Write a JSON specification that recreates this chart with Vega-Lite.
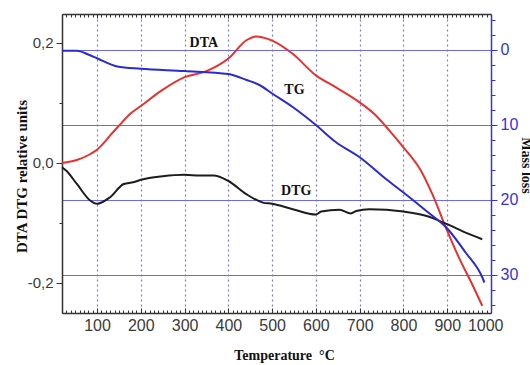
{
  "$schema": "https://vega.github.io/schema/vega-lite/v6.json",
  "width": 429,
  "height": 299,
  "autosize": {"type": "none"},
  "padding": {"left": 62, "top": 14, "right": 39, "bottom": 52},
  "background": "white",
  "config": {"view": {"stroke": null}},
  "datasets": {
    "dtaDtg": [
      {"series": "DTA", "T": 20, "v": 0.0},
      {"series": "DTA", "T": 54, "v": 0.005},
      {"series": "DTA", "T": 85, "v": 0.015},
      {"series": "DTA", "T": 100, "v": 0.022},
      {"series": "DTA", "T": 115, "v": 0.033},
      {"series": "DTA", "T": 130, "v": 0.046},
      {"series": "DTA", "T": 150, "v": 0.062},
      {"series": "DTA", "T": 176, "v": 0.082},
      {"series": "DTA", "T": 200, "v": 0.095},
      {"series": "DTA", "T": 248, "v": 0.121},
      {"series": "DTA", "T": 300, "v": 0.143},
      {"series": "DTA", "T": 350, "v": 0.153},
      {"series": "DTA", "T": 400, "v": 0.174},
      {"series": "DTA", "T": 442, "v": 0.205},
      {"series": "DTA", "T": 464, "v": 0.211},
      {"series": "DTA", "T": 480, "v": 0.209},
      {"series": "DTA", "T": 500, "v": 0.204},
      {"series": "DTA", "T": 547, "v": 0.182},
      {"series": "DTA", "T": 600, "v": 0.146},
      {"series": "DTA", "T": 646, "v": 0.126},
      {"series": "DTA", "T": 700, "v": 0.101},
      {"series": "DTA", "T": 733, "v": 0.082},
      {"series": "DTA", "T": 768, "v": 0.054},
      {"series": "DTA", "T": 800, "v": 0.026},
      {"series": "DTA", "T": 840, "v": -0.013},
      {"series": "DTA", "T": 866, "v": -0.052},
      {"series": "DTA", "T": 900, "v": -0.113},
      {"series": "DTA", "T": 927, "v": -0.158},
      {"series": "DTA", "T": 957, "v": -0.202},
      {"series": "DTA", "T": 980, "v": -0.238},
      {"series": "DTG", "T": 20, "v": -0.007},
      {"series": "DTG", "T": 30, "v": -0.013},
      {"series": "DTG", "T": 54, "v": -0.035},
      {"series": "DTG", "T": 85, "v": -0.063},
      {"series": "DTG", "T": 100, "v": -0.068},
      {"series": "DTG", "T": 130, "v": -0.057},
      {"series": "DTG", "T": 161, "v": -0.035},
      {"series": "DTG", "T": 183, "v": -0.032},
      {"series": "DTG", "T": 200, "v": -0.028},
      {"series": "DTG", "T": 250, "v": -0.022},
      {"series": "DTG", "T": 300, "v": -0.0195},
      {"series": "DTG", "T": 335, "v": -0.021},
      {"series": "DTG", "T": 366, "v": -0.021},
      {"series": "DTG", "T": 400, "v": -0.03},
      {"series": "DTG", "T": 441, "v": -0.052},
      {"series": "DTG", "T": 479, "v": -0.066},
      {"series": "DTG", "T": 500, "v": -0.068},
      {"series": "DTG", "T": 547, "v": -0.077},
      {"series": "DTG", "T": 600, "v": -0.086},
      {"series": "DTG", "T": 612, "v": -0.081},
      {"series": "DTG", "T": 654, "v": -0.078},
      {"series": "DTG", "T": 680, "v": -0.084},
      {"series": "DTG", "T": 692, "v": -0.08},
      {"series": "DTG", "T": 722, "v": -0.077},
      {"series": "DTG", "T": 800, "v": -0.081},
      {"series": "DTG", "T": 851, "v": -0.088},
      {"series": "DTG", "T": 900, "v": -0.102},
      {"series": "DTG", "T": 942, "v": -0.116},
      {"series": "DTG", "T": 980, "v": -0.127}
    ],
    "tg": [
      {"T": 20, "m": 0.1},
      {"T": 54, "m": 0.1},
      {"T": 80, "m": 0.6},
      {"T": 100, "m": 1.1},
      {"T": 146, "m": 2.2},
      {"T": 200, "m": 2.5},
      {"T": 300, "m": 2.8},
      {"T": 400, "m": 3.2},
      {"T": 442, "m": 4.0},
      {"T": 472, "m": 4.7},
      {"T": 500, "m": 5.8},
      {"T": 547, "m": 7.6},
      {"T": 600, "m": 10.0},
      {"T": 646, "m": 12.3},
      {"T": 700, "m": 14.3},
      {"T": 760, "m": 17.2},
      {"T": 800, "m": 19.0},
      {"T": 851, "m": 21.4},
      {"T": 900, "m": 23.8},
      {"T": 942, "m": 27.0},
      {"T": 980, "m": 30.3},
      {"T": 985, "m": 31.0}
    ],
    "labels": [
      {"label": "DTA", "T": 344, "v": 0.2},
      {"label": "TG", "T": 551, "v": 0.121},
      {"label": "DTG", "T": 555, "v": -0.047}
    ]
  },
  "layer": [
    {
      "layer": [
        {
          "data": {"name": "dtaDtg"},
          "mark": {"type": "line", "strokeWidth": 2, "interpolate": "monotone"},
          "encoding": {
            "x": {
              "field": "T", "type": "quantitative",
              "scale": {"domain": [20, 1000], "nice": false, "zero": false},
              "axis": {
                "orient": "bottom",
                "tickCount": 98,
                "format": "d",
                "labelOverlap": false,
                "labelFlush": true,
                "labelFlushOffset": 12,
                "labelExpr": "datum.value % 100 === 0 ? datum.label : ''",
                "labelFont": "Liberation Sans",
                "labelFontSize": 16,
                "labelColor": "#3a3a3a",
                "labelPadding": 9,
                "tickColor": "#333333",
                "tickWidth": 1,
                "tickSize": {"condition": {"test": "datum.value % 100 === 0", "value": -5}, "value": -3},
                "domainColor": "#333333",
                "domainWidth": 1.5,
                "grid": true,
                "gridColor": "#7a7ae6",
                "gridDash": [2, 3],
                "gridWidth": 1.2,
                "gridOpacity": {"condition": {"test": "datum.value % 100 === 0 && datum.value < 1000", "value": 1}, "value": 0},
                "title": "Temperature\u00a0\u00a0°C",
                "titleFont": "Liberation Serif",
                "titleFontSize": 14,
                "titleFontWeight": "bold",
                "titleColor": "#111111",
                "titleBaseline": "top",
                "titleX": 222,
                "titleY": 35
              }
            },
            "y": {
              "field": "v", "type": "quantitative",
              "scale": {"domain": [-0.25, 0.24833], "nice": false, "zero": false},
              "axis": {
                "orient": "left",
                "tickCount": 5,
                "format": ".1f",
                "labelOverlap": false,
                "labelExpr": "abs(round(datum.value*10)) % 2 === 0 ? replace(replace(datum.label, '.', ','), '\u2212', '-') : ''",
                "labelFont": "Liberation Sans",
                "labelFontSize": 15,
                "labelColor": "#3a3a3a",
                "labelPadding": 3,
                "tickColor": "#333333",
                "tickSize": {"condition": {"test": "abs(round(datum.value*10)) % 2 === 0", "value": 6}, "value": 3},
                "domainColor": "#333333",
                "domainWidth": 1.5,
                "grid": false,
                "title": "DTA DTG relative units",
                "titleFont": "Liberation Serif",
                "titleFontSize": 15,
                "titleFontWeight": "bold",
                "titleColor": "#111111",
                "titleAngle": -90,
                "titleBaseline": "bottom",
                "titleX": -33,
                "titleY": 162
              }
            },
            "color": {
              "field": "series", "type": "nominal",
              "scale": {"domain": ["DTA", "DTG"], "range": ["#e8312c", "#1c1c1c"]},
              "legend": null
            }
          }
        },
        {
          "data": {"name": "labels"},
          "mark": {"type": "text", "font": "Liberation Serif", "fontWeight": "bold", "fontSize": 14, "color": "#111111", "align": "center", "baseline": "middle"},
          "encoding": {
            "x": {"field": "T", "type": "quantitative"},
            "y": {"field": "v", "type": "quantitative"},
            "text": {"field": "label", "type": "nominal"}
          }
        }
      ]
    },
    {
      "data": {"name": "tg"},
      "mark": {"type": "line", "color": "#2a2ad2", "strokeWidth": 2, "interpolate": "monotone"},
      "encoding": {
        "x": {
          "field": "T", "type": "quantitative",
          "axis": {
            "orient": "top",
            "tickCount": 98,
            "labels": false,
            "grid": false,
            "title": null,
            "tickColor": "#333333",
            "tickSize": {"condition": {"test": "datum.value % 100 === 0", "value": -4}, "value": -3},
            "domainColor": "#333333",
            "domainWidth": 1.5
          }
        },
        "y": {
          "field": "m", "type": "quantitative",
          "scale": {"domain": [-4.8, 35.067], "reverse": true, "nice": false, "zero": false},
          "axis": {
            "orient": "right",
            "tickCount": 20,
            "format": "d",
            "labelOverlap": false,
            "labelExpr": "datum.value % 10 === 0 ? datum.label : ''",
            "labelFont": "Liberation Sans",
            "labelFontSize": 16,
            "labelColor": "#3434d8",
            "labelPadding": 3,
            "tickColor": "#3434d8",
            "tickSize": {"condition": {"test": "datum.value % 10 === 0", "value": 6}, "value": 4},
            "domainColor": "#3434d8",
            "domainWidth": 1.5,
            "grid": true,
            "gridColor": {"condition": {"test": "datum.value % 10 === 0", "value": "#6a6aee"}, "value": "#ffffff"},
            "gridWidth": 1,
            "gridOpacity": {"condition": {"test": "datum.value % 10 === 0", "value": 1}, "value": 0},
            "title": "Mass loss",
            "titleFont": "Liberation Serif",
            "titleFontSize": 14,
            "titleFontWeight": "bold",
            "titleColor": "#111111",
            "titleAngle": 90,
            "titleBaseline": "bottom",
            "titleX": 27,
            "titleY": 151
          }
        }
      }
    }
  ],
  "resolve": {"scale": {"y": "independent"}, "axis": {"x": "independent"}}
}
